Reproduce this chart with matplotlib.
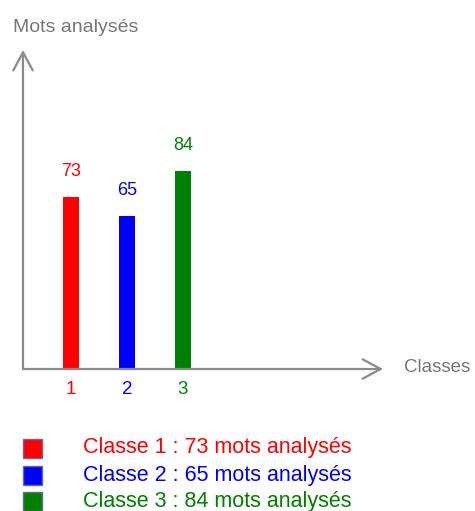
import matplotlib
matplotlib.use("Agg")
import matplotlib.pyplot as plt
from matplotlib.patches import Rectangle

# data
classes = [1, 2, 3]
mots = [73, 65, 84]
couleurs = ['#ff0000', '#0000ff', '#008000']
legende = ['Classe %d : %d mots analysés' % (c, m) for c, m in zip(classes, mots)]

W, H = 475, 511
fig = plt.figure(figsize=(W / 100, H / 100), dpi=100)
plt.rcParams['font.family'] = ['Liberation Sans', 'DejaVu Sans']

# axes placed in pixels: y axis at x=23, x axis at y=369
x0, x1 = 23, 383
y0, y1 = 369, 50
ax = fig.add_axes([x0 / W, 1 - y0 / H, (x1 - x0) / W, (y0 - y1) / H])
ax.set_xlim(1 - 48 / 56, 1 + 312 / 56)
ax.set_ylim(0, (y0 - y1) / 2.36)
ax.axis('off')

bars = ax.bar(classes, mots, width=16 / 56, color=couleurs)
for c, m, col in zip(classes, mots, couleurs):
    ax.text(c, m + 10.5, str(m), color=col, ha='center', va='center', fontsize=13)
    ax.text(c, -8.5, str(c), color=col, ha='center', va='center', fontsize=13.5)

axe_col = '#8a8a8a'
fleche = dict(arrowstyle='->,head_length=1.3,head_width=0.7', color=axe_col, lw=1.6,
              shrinkA=0, shrinkB=0)
ax.annotate('', xy=(0, 1), xytext=(0, 0), xycoords='axes fraction', arrowprops=fleche)
ax.annotate('', xy=(1, 0), xytext=(0, 0), xycoords='axes fraction', arrowprops=fleche)

fig.text(13 / W, 1 - 27 / H, 'Mots analysés', color='#777777', fontsize=14, va='center', ha='left')
fig.text(404 / W, 1 - 367 / H, 'Classes', color='#777777', fontsize=13.5, va='center', ha='left')

# legend
rows_y = [448, 475, 501]
for y, txt, col in zip(rows_y, legende, couleurs):
    fig.patches.append(Rectangle((23 / W, 1 - (y + 9.5) / H), 19 / W, 19 / H, transform=fig.transFigure,
                                 facecolor=col, edgecolor='#6a6a9a', lw=1))
    fig.text(83 / W, 1 - y / H, txt, color=col, fontsize=15.5, va='center', ha='left')

fig.savefig('out.png', dpi=100)
